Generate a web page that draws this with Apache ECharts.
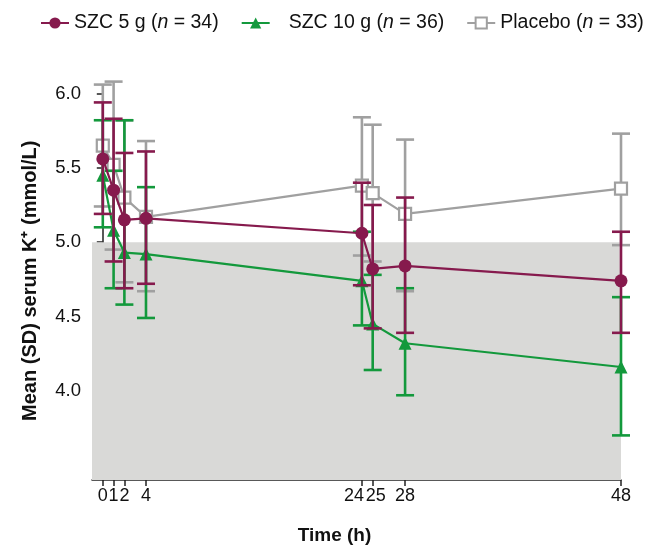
<!DOCTYPE html>
<html><head><meta charset="utf-8">
<script src="https://cdn.jsdelivr.net/npm/echarts@6/dist/echarts.min.js"></script>
<style>html,body{margin:0;padding:0;background:#fff}#c{width:646px;height:550px}</style>
</head><body><div id="c"></div>
<script>
const times = [0, 1, 2, 4, 24, 25, 28, 48];
const xTicks = [0, 1, 2, 4, 24, 25, 28, 48];
const yTicks = [4.0, 4.5, 5.0, 5.5, 6.0];
const seriesNames = ['SZC 5 g', 'SZC 10 g', 'Placebo'];
const nCounts = [34, 36, 33];
const szc5Mean  = [5.56, 5.35, 5.15, 5.16, 5.06, 4.82, 4.84, 4.74];
const szc5Lower = [5.19, 4.87, 4.69, 4.72, 4.71, 4.42, 4.39, 4.39];
const szc5Upper = [5.94, 5.83, 5.60, 5.61, 5.40, 5.25, 5.30, 5.07];
const szc10Mean  = [5.45, 5.08, 4.93, 4.92, 4.74, 4.45, 4.32, 4.16];
const szc10Lower = [5.10, 4.69, 4.58, 4.49, 4.44, 4.14, 3.97, 3.70];
const szc10Upper = [5.82, 5.48, 5.82, 5.37, 5.07, 4.78, 4.69, 4.63];
const placeboMean  = [5.65, 5.52, 5.30, 5.17, 5.38, 5.33, 5.19, 5.36];
const placeboLower = [5.24, 4.95, 4.73, 4.67, 4.91, 4.87, 4.67, 4.98];
const placeboUpper = [6.06, 6.08, 5.82, 5.68, 5.84, 5.79, 5.69, 5.73];
const normalRange = [3.4, 5.0];

const C5 = '#861a4d', C10 = '#13993c', CP = '#a0a0a0';
const FONT = '"Liberation Sans", Arial, sans-serif';

function pts(mean){ return times.map((t,i)=>[t, mean[i]]); }
function errData(lo, hi){ return times.map((t,i)=>[t, lo[i], hi[i]]); }
function errSeries(lo, hi, color, z){
  return {
    type: 'custom', z: z, silent: true, clip: false,
    data: errData(lo, hi),
    encode: {x: 0, y: [1, 2]},
    renderItem: function(params, api){
      const x = api.value(0);
      const a = api.coord([x, api.value(1)]);
      const b = api.coord([x, api.value(2)]);
      const w = 9;
      const st = {stroke: color, lineWidth: 2.6, fill: null};
      return {type: 'group', children: [
        {type: 'line', shape: {x1: a[0], y1: a[1], x2: b[0], y2: b[1]}, style: st},
        {type: 'line', shape: {x1: a[0]-w, y1: a[1], x2: a[0]+w, y2: a[1]}, style: st},
        {type: 'line', shape: {x1: b[0]-w, y1: b[1], x2: b[0]+w, y2: b[1]}, style: st}
      ]};
    }
  };
}

const chart = echarts.init(document.getElementById('c'), null, {renderer: 'canvas'});
chart.setOption({
  animation: false,
  textStyle: {fontFamily: FONT},
  legend: {
    data: seriesNames,
    top: 13, left: 40, width: 606, padding: 0,
    itemWidth: 28, itemHeight: 14, itemGap: 22,
    textStyle: {fontSize: 19.5, color: '#111', fontFamily: FONT,
      rich: {i: {fontStyle: 'italic', fontSize: 19.5, fontFamily: FONT, color: '#111'},
             s: {width: 14, fontSize: 19.5}}},
    formatter: function(name){
      const k = seriesNames.indexOf(name);
      return (k === 1 ? '{s| }' : '') + name + ' ({i|n} = ' + nCounts[k] + ')';
    }
  },
  grid: {left: 92, right: 25, top: 93.5, bottom: 68.5},
  xAxis: {
    type: 'value', min: -1, max: 48,
    name: 'Time (h)', nameLocation: 'middle', nameGap: 46,
    nameTextStyle: {fontSize: 19, fontWeight: 'bold', color: '#111', padding: [0, 44, 0, 0]},
    axisLine: {lineStyle: {color: '#222', width: 1.5}},
    axisTick: {show: true, length: 6, lineStyle: {color: '#222', width: 1.5}, customValues: xTicks},
    axisLabel: {fontSize: 18, color: '#111', margin: 7, customValues: xTicks,
      formatter: function(v){
        if (v === 24) return '{l|24}';
        if (v === 25) return '{r|25}';
        return String(v);
      },
      rich: {l: {fontSize: 18, color: '#111', padding: [0, 16, 0, 0]},
             r: {fontSize: 18, color: '#111', padding: [0, 0, 0, 6]}}},
    splitLine: {show: false}
  },
  yAxis: {
    type: 'value', min: 3.4, max: 6.0,
    name: 'Mean (SD) serum K\u207A (mmol/L)', nameLocation: 'middle', nameGap: 52,
    nameTextStyle: {fontSize: 20, fontWeight: 'bold', color: '#111', padding: [0, 0, 0, 12]},
    axisLine: {show: true, lineStyle: {color: '#222', width: 1.5}},
    axisTick: {show: true, length: 6, lineStyle: {color: '#222', width: 1.5}, customValues: yTicks},
    axisLabel: {fontSize: 18.5, color: '#111', margin: 11, customValues: yTicks,
      formatter: v => v.toFixed(1)},
    splitLine: {show: false}
  },
  series: [
    {type: 'line', name: 'band', data: [], z: 0, silent: true,
      markArea: {silent: true, itemStyle: {color: '#d9d9d7'},
        data: [[{xAxis: -1, yAxis: normalRange[0]}, {xAxis: 48, yAxis: normalRange[1]}]]}},
    errSeries(placeboLower, placeboUpper, CP, 1),
    {type: 'line', name: 'Placebo', data: pts(placeboMean), z: 2, symbol: 'rect', symbolSize: 12,
      lineStyle: {color: CP, width: 2.2}, itemStyle: {color: '#fff', borderColor: CP, borderWidth: 2.2}},
    errSeries(szc10Lower, szc10Upper, C10, 3),
    {type: 'line', name: 'SZC 10 g', data: pts(szc10Mean), z: 4, symbol: 'triangle', symbolSize: 13,
      lineStyle: {color: C10, width: 2.2}, itemStyle: {color: C10}},
    errSeries(szc5Lower, szc5Upper, C5, 5),
    {type: 'line', name: 'SZC 5 g', data: pts(szc5Mean), z: 6, symbol: 'circle', symbolSize: 13,
      lineStyle: {color: C5, width: 2.2}, itemStyle: {color: C5}}
  ]
});
</script></body></html>
